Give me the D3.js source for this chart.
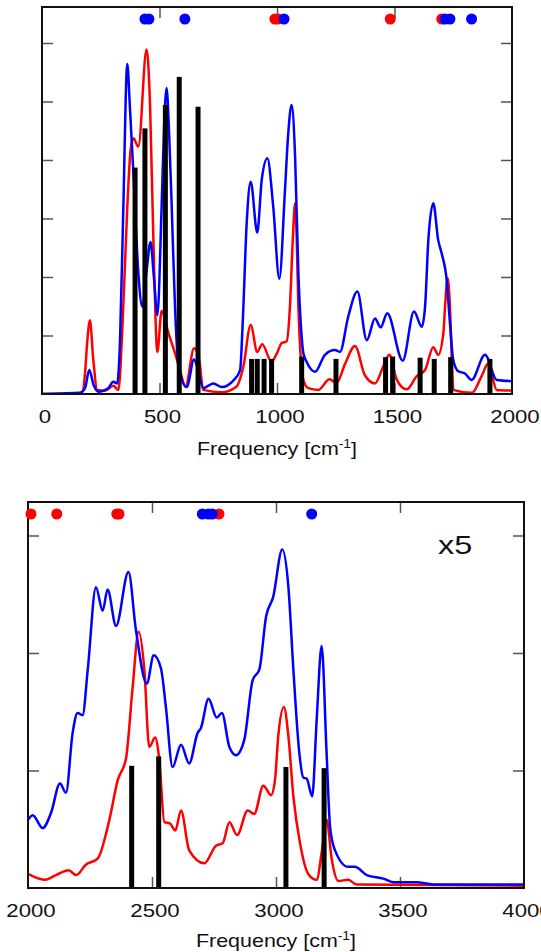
<!DOCTYPE html>
<html>
<head>
<meta charset="utf-8">
<script src="https://cdn.jsdelivr.net/npm/d3@7"></script>
<style>
  html, body { margin: 0; padding: 0; background: #fff; }
  svg { display: block; }
  text { font-family: "Liberation Sans", Arial, sans-serif; fill: #111; }
</style>
</head>
<body>
<div id="chart"></div>
<script>
// ---- data: [frequency cm-1, intensity] ----
const topBlue = [
  [0,0],[80,0.01],[160,0.02],[183,0.1],[201,0.41],[220,0.15],[240,0.04],[282,0.1],[303,0.21],[320,0.18],
  [332,0.92],[345,3.0],[363,5.64],[374,4.91],[389,3.77],[410,2.07],[427,1.49],[445,2.1],[462,2.6],
  [476,2.0],[491,1.35],[509,3.2],[519,4.5],[530,5.23],[542,4.34],[552,3.2],[566,1.49],[580,0.5],
  [616,0.12],[647,0.59],[665,0.4],[686,0.1],[729,0.18],[765,0.12],[814,0.23],[843,0.41],[854,1.21],
  [871,2.92],[888,3.63],[916,2.76],[935,3.66],[959,4.03],[984,3.2],[1010,1.97],[1034,3.49],[1048,4.46],
  [1062,4.94],[1077,4.06],[1091,2.06],[1105,0.98],[1112,0.7],[1126,0.55],[1162,0.38],[1204,0.67],
  [1247,0.75],[1268,0.72],[1303,1.32],[1342,1.75],[1382,0.92],[1417,1.29],[1441,1.14],[1469,1.38],
  [1535,0.57],[1583,1.41],[1616,1.15],[1630,1.49],[1644,2.63],[1665,3.26],[1686,2.63],[1701,2.4],
  [1722,1.95],[1736,1.21],[1750,0.58],[1771,0.39],[1800,0.35],[1828,0.24],[1885,0.67],[1935,0.24],
  [2000,0.22]
];
const topRed = [
  [0,0],[170,0.01],[183,0.35],[193,0.92],[204,1.26],[218,0.6],[235,0.07],[270,0.06],[303,0.14],
  [325,0.07],[343,1.21],[363,3.2],[377,4.17],[389,4.37],[410,4.23],[445,5.89],[460,4.91],[474,2.63],
  [491,0.72],[509,1.42],[538,1.04],[566,0.7],[583,0.47],[611,0.13],[647,0.78],[669,0.58],[686,0.07],
  [765,0.03],[828,0.13],[857,0.47],[888,1.18],[916,0.72],[937,0.85],[977,0.55],[1000,0.7],
  [1020,0.87],[1041,0.9],[1055,1.49],[1067,2.63],[1077,3.26],[1084,2.63],[1091,1.49],[1112,0.24],
  [1133,0.1],[1176,0.07],[1223,0.25],[1254,0.19],[1290,0.52],[1332,0.82],[1374,0.32],[1417,0.18],
  [1452,0.47],[1478,0.67],[1509,0.25],[1552,0.08],[1594,0.3],[1630,0.41],[1665,0.8],[1686,0.67],
  [1708,1.04],[1715,1.49],[1726,1.98],[1736,1.49],[1745,0.47],[1750,0.07],[1830,0.02],[1870,0.3],
  [1899,0.52],[1935,0.07],[2000,0.06]
];
const topSticks = [
  [396,3.87],[438,4.54],[525,4.94],[584,5.42],[664,4.91],[892,0.6],[916,0.6],[945,0.6],[977,0.6],
  [1105,0.64],[1251,0.6],[1462,0.63],[1492,0.64],[1609,0.62],[1669,0.6],[1739,0.63],[1906,0.6]
];
const topDotsRed = [991, 1005, 1482, 1701];
const topDotsBlue = [438, 455, 608, 1030, 1715, 1736, 1828];

const botBlue = [
  [2000,0.58],[2019,0.62],[2059,0.51],[2093,0.64],[2129,0.89],[2153,0.81],[2180,1.32],[2200,1.49],
  [2220,1.47],[2241,1.86],[2274,2.56],[2301,2.36],[2321,2.54],[2355,2.23],[2405,2.69],[2435,2.2],
  [2479,1.74],[2507,1.98],[2536,1.87],[2556,1.54],[2583,1.03],[2617,1.22],[2650,1.06],[2684,1.32],
  [2697,1.36],[2728,1.61],[2761,1.45],[2782,1.49],[2812,1.2],[2839,1.13],[2872,1.26],[2906,1.77],
  [2933,1.86],[2960,2.31],[2989,2.48],[3025,2.88],[3050,2.56],[3070,1.86],[3094,1.15],[3110,0.94],
  [3124,0.93],[3146,0.78],[3164,1.43],[3184,2.06],[3204,1.15],[3218,0.52],[3238,0.32],[3291,0.18],
  [3318,0.18],[3366,0.11],[3433,0.08],[3473,0.05],[3566,0.05],[3634,0.03],[4000,0.03]
];
const botRed = [
  [2000,0.12],[2066,0.07],[2113,0.11],[2164,0.15],[2194,0.11],[2234,0.2],[2281,0.25],[2328,0.58],
  [2362,0.92],[2395,1.1],[2422,1.71],[2446,2.18],[2469,1.86],[2489,1.2],[2513,1.28],[2529,1.1],
  [2550,0.56],[2572,0.55],[2594,0.49],[2617,0.66],[2650,0.32],[2711,0.21],[2758,0.36],[2785,0.38],
  [2812,0.56],[2843,0.45],[2886,0.66],[2912,0.63],[2949,0.87],[2980,0.79],[2996,0.92],[3009,1.29],
  [3032,1.54],[3050,1.29],[3070,0.78],[3097,0.38],[3130,0.12],[3164,0.07],[3184,0.3],[3204,0.58],
  [3225,0.24],[3251,0.06],[3291,0.07],[3325,0.03],[4000,0.02]
];
const botSticks = [[2418,1.04],[2527,1.12],[3040,1.03],[3194,1.02]];
const botDotsRed = [2012, 2116, 2358, 2367, 2770];
const botDotsBlue = [2703, 2727, 2743, 3144];

const topXTicks = [0, 500, 1000, 1500, 2000];
const botXTicks = [2000, 2500, 3000, 3500, 4000];
const topYTicks = [1, 2, 3, 4, 5, 6];
const botYTicks = [1, 2, 3];

// ---- drawing ----
const svg = d3.select('#chart').append('svg')
  .attr('width', 541).attr('height', 952);

function panel(opt) {
  const x = d3.scaleLinear().domain(opt.xDomain).range([opt.left, opt.right]);
  const y = d3.scaleLinear().domain([0, opt.yMax]).range([opt.bottom, opt.top]);
  const g = svg.append('g');

  const clipId = 'clip' + opt.id;
  g.append('clipPath').attr('id', clipId)
    .append('rect')
      .attr('x', opt.left).attr('y', opt.top)
      .attr('width', opt.right - opt.left).attr('height', opt.bottom - opt.top);

  // ticks (inward, all four sides)
  const inner = opt.xTicks.slice(1, -1);
  const axes = [
    d3.axisBottom(x).tickValues(inner).tickSizeInner(-11).tickSizeOuter(0), 'translate(0,' + opt.bottom + ')',
    d3.axisTop(x).tickValues(inner).tickSizeInner(-11).tickSizeOuter(0), 'translate(0,' + opt.top + ')',
    d3.axisLeft(y).tickValues(opt.yTicks).tickSizeInner(-11).tickSizeOuter(0), 'translate(' + opt.left + ',0)',
    d3.axisRight(y).tickValues(opt.yTicks).tickSizeInner(-11).tickSizeOuter(0), 'translate(' + opt.right + ',0)'
  ];
  for (let i = 0; i < axes.length; i += 2) {
    const a = g.append('g').attr('transform', axes[i + 1])
      .call(axes[i].tickFormat(''));
    a.select('.domain').remove();
    a.selectAll('line').attr('stroke', '#555').attr('stroke-width', 1.5);
  }

  const line = d3.line()
    .x(d => x(d[0])).y(d => y(d[1]))
    .curve(d3.curveMonotoneX);

  const plot = g.append('g').attr('clip-path', 'url(#' + clipId + ')');
  plot.append('path').datum(opt.red)
    .attr('fill', 'none').attr('stroke', '#ff0000').attr('stroke-width', 2.5).attr('d', line);
  plot.append('path').datum(opt.blue)
    .attr('fill', 'none').attr('stroke', '#0000ff').attr('stroke-width', 2.5).attr('d', line);

  // stick spectrum
  plot.selectAll('rect.stick').data(opt.sticks).enter().append('rect')
    .attr('class', 'stick')
    .attr('x', d => x(d[0]) - 2.5).attr('width', 5)
    .attr('y', d => y(d[1])).attr('height', d => y(0) - y(d[1]))
    .attr('fill', '#000');

  // frame
  g.append('rect')
    .attr('x', opt.left).attr('y', opt.top)
    .attr('width', opt.right - opt.left).attr('height', opt.bottom - opt.top)
    .attr('fill', 'none').attr('stroke', '#111').attr('stroke-width', 2);

  // markers along the top
  const dotY = opt.top + 12;
  g.selectAll('circle.red').data(opt.dotsRed).enter().append('circle')
    .attr('class', 'red').attr('cx', d => x(d)).attr('cy', dotY).attr('r', 5.5).attr('fill', '#ff0000');
  g.selectAll('circle.blue').data(opt.dotsBlue).enter().append('circle')
    .attr('class', 'blue').attr('cx', d => x(d)).attr('cy', dotY).attr('r', 5.5).attr('fill', '#0000ff');

  // tick labels
  g.selectAll('text.tl').data(opt.xTicks).enter().append('text')
    .attr('class', 'tl')
    .attr('text-anchor', 'middle')
    .attr('font-size', 18.5)
    .attr('transform', d => 'translate(' + (x(d) + 3) + ',' + opt.labelY + ') scale(1.2,1)')
    .text(d => d);

  // axis title
  const cx = (opt.left + opt.right) / 2;
  const t = g.append('text')
    .attr('text-anchor', 'middle')
    .attr('font-size', 18.5)
    .attr('transform', 'translate(' + cx + ',' + opt.titleY + ') scale(1.16,1)');
  t.append('tspan').text('Frequency [cm');
  t.append('tspan').attr('font-size', 12).attr('dy', -7).text('-1');
  t.append('tspan').attr('dy', 7).text(']');

  return { x, y, g };
}

panel({
  id: 'top', xDomain: [0, 2000], yMax: 6.615,
  left: 42, right: 512, top: 7, bottom: 394,
  xTicks: topXTicks, yTicks: topYTicks,
  red: topRed, blue: topBlue, sticks: topSticks,
  dotsRed: topDotsRed, dotsBlue: topDotsBlue,
  labelY: 423, titleY: 455
});

const bot = panel({
  id: 'bot', xDomain: [2000, 4000], yMax: 3.285,
  left: 28, right: 524, top: 502, bottom: 888,
  xTicks: botXTicks, yTicks: botYTicks,
  red: botRed, blue: botBlue, sticks: botSticks,
  dotsRed: botDotsRed, dotsBlue: botDotsBlue,
  labelY: 917, titleY: 947
});

bot.g.append('text')
  .attr('font-size', 25)
  .attr('transform', 'translate(438,554) scale(1.3,1)')
  .text('x5');
</script>
</body>
</html>
